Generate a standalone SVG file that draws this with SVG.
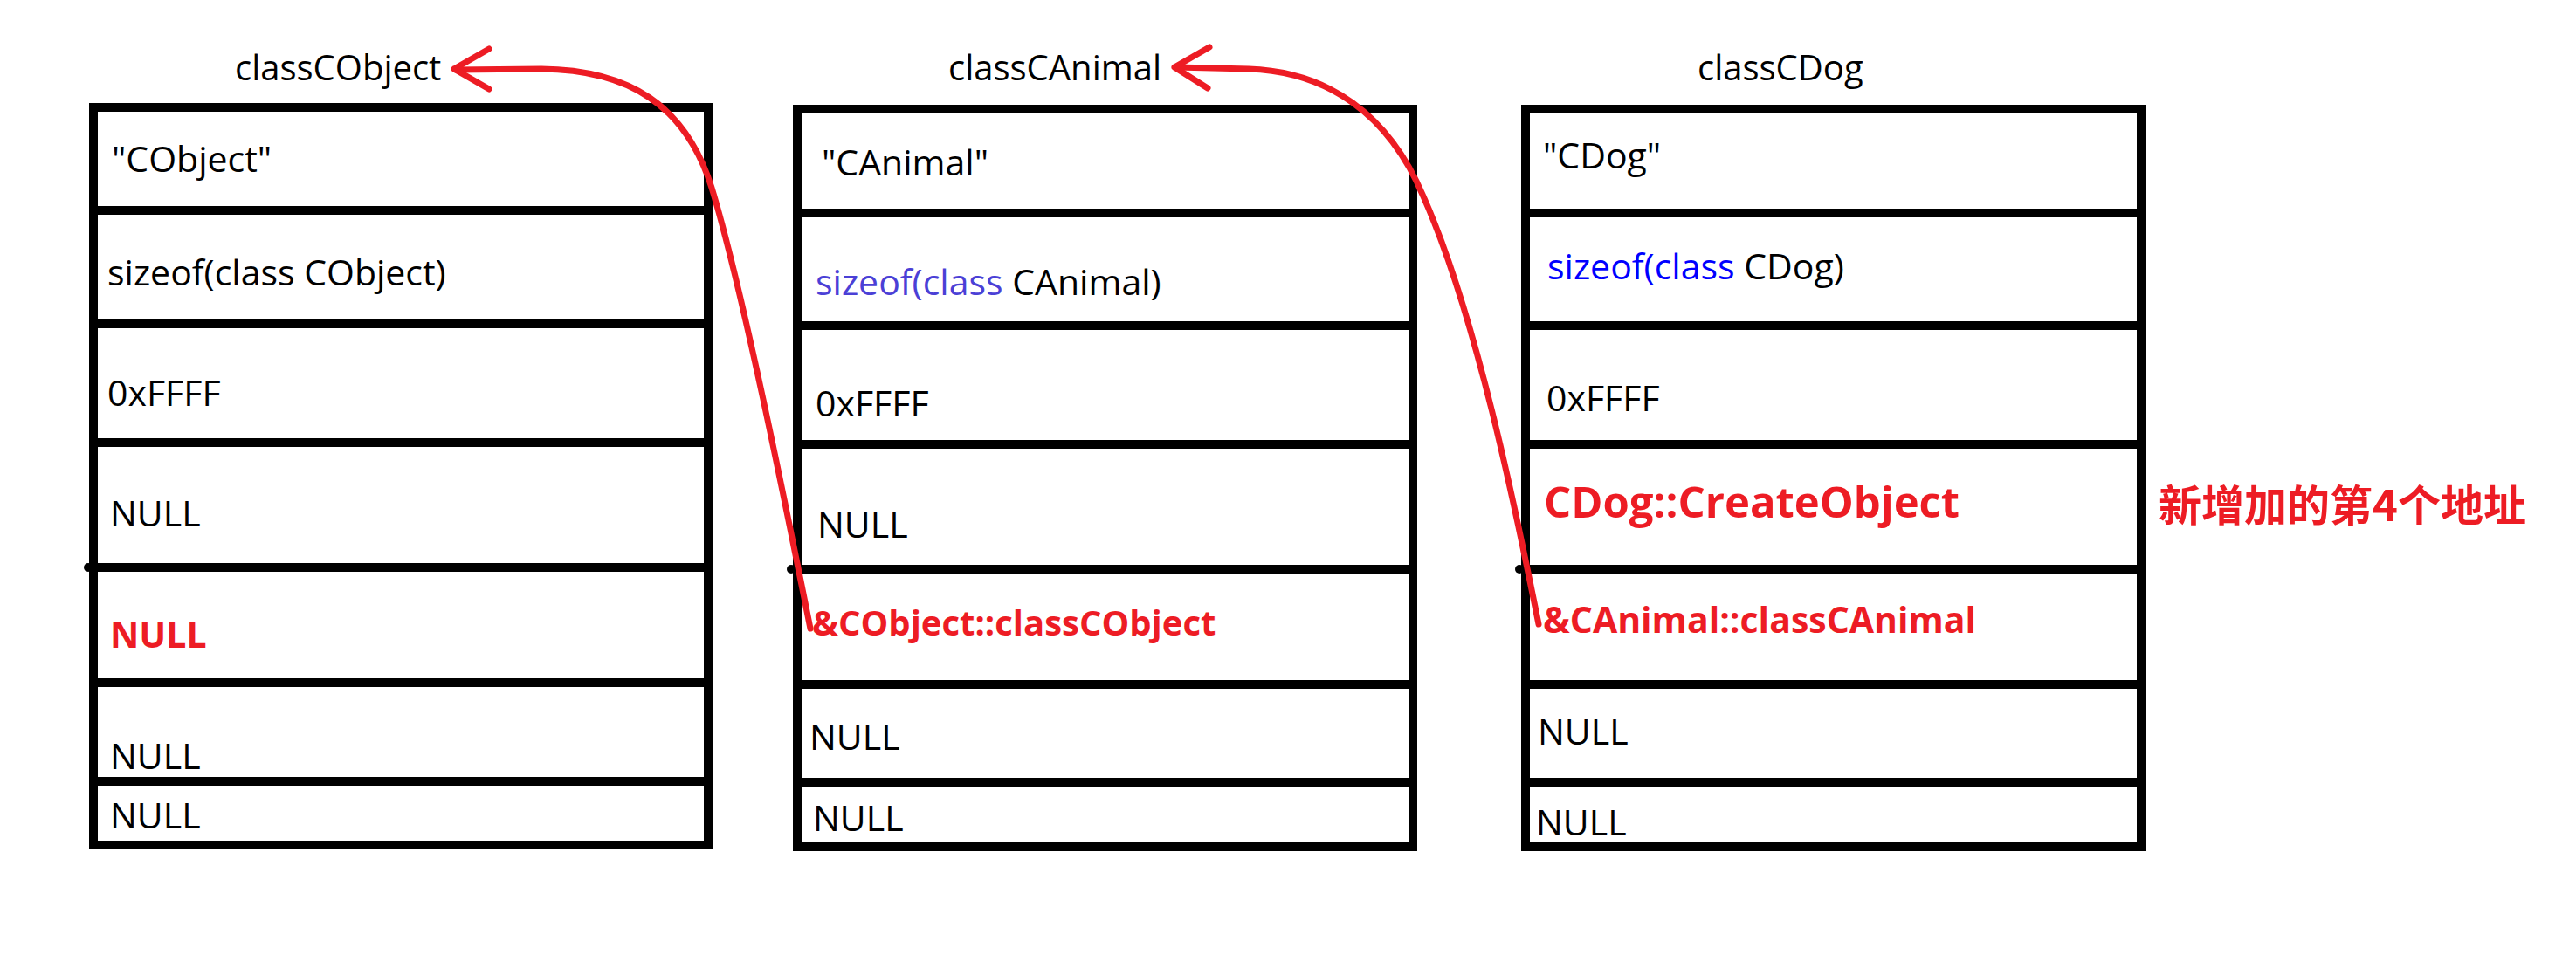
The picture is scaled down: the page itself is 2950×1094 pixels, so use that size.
<svg xmlns="http://www.w3.org/2000/svg" width="2950" height="1094" viewBox="0 0 2950 1094">
  <style>
    .frame { fill: #ffffff; stroke: #000000; stroke-width: 10; }
    .sep { stroke: #000000; stroke-width: 10; stroke-linecap: round; }
    .knob { fill: #000000; }
    .t { font-family: "Open Sans", "Noto Sans", "Liberation Sans", sans-serif; font-size: 41px; fill: #000000; }
    .title { font-size: 40px; }
    .red { fill: #ED1C24; font-weight: bold; }
    .kw1 { fill: #4B40D6; }
    .kw2 { fill: #0000FF; }
    .note { font-family: "Noto Sans CJK SC", "Noto Sans", sans-serif; font-size: 49px; font-weight: bold; fill: #ED1C24; }
    .link { fill: none; stroke: #ED1C24; stroke-width: 7; stroke-linecap: round; stroke-linejoin: round; }
  </style>

  <rect x="0" y="0" width="2950" height="1094" fill="#ffffff"/>

  <!-- CRuntimeClass table for CObject -->
  <g id="classCObject">
    <text class="t title" x="269" y="92">classCObject</text>
    <rect class="frame" x="107" y="123" width="704" height="845"/>
    <line class="sep" x1="107" y1="241" x2="811" y2="241"/>
    <line class="sep" x1="107" y1="371" x2="811" y2="371"/>
    <line class="sep" x1="107" y1="507" x2="811" y2="507"/>
    <line class="sep" x1="107" y1="650" x2="811" y2="650"/>
    <line class="sep" x1="107" y1="782" x2="811" y2="782"/>
    <line class="sep" x1="107" y1="895" x2="806" y2="895"/>
    <circle class="knob" cx="101" cy="650" r="5"/>
    <text class="t" x="128" y="197">"CObject"</text>
    <text class="t" x="123" y="327">sizeof(class CObject)</text>
    <text class="t" x="123" y="465">0xFFFF</text>
    <text class="t" x="126" y="603">NULL</text>
    <text class="t red" x="126" y="742">NULL</text>
    <text class="t" x="126" y="881">NULL</text>
    <text class="t" x="126" y="949">NULL</text>
  </g>

  <!-- CRuntimeClass table for CAnimal -->
  <g id="classCAnimal">
    <text class="t title" x="1086" y="92">classCAnimal</text>
    <rect class="frame" x="913" y="125" width="705" height="845"/>
    <line class="sep" x1="913" y1="244" x2="1613" y2="244"/>
    <line class="sep" x1="913" y1="373" x2="1618" y2="373"/>
    <line class="sep" x1="913" y1="509" x2="1618" y2="509"/>
    <line class="sep" x1="913" y1="652" x2="1618" y2="652"/>
    <line class="sep" x1="913" y1="784" x2="1618" y2="784"/>
    <line class="sep" x1="913" y1="896" x2="1613" y2="896"/>
    <circle class="knob" cx="906" cy="652" r="5"/>
    <text class="t" x="941" y="201">"CAnimal"</text>
    <text class="t" x="934" y="338"><tspan class="kw1">sizeof(class</tspan> CAnimal)</text>
    <text class="t" x="934" y="477">0xFFFF</text>
    <text class="t" x="936" y="616">NULL</text>
    <text class="t red" x="930" y="728" style="font-size:40px">&amp;CObject::classCObject</text>
    <text class="t" x="927" y="859">NULL</text>
    <text class="t" x="931" y="952">NULL</text>
  </g>

  <!-- CRuntimeClass table for CDog -->
  <g id="classCDog">
    <text class="t title" x="1944" y="92">classCDog</text>
    <rect class="frame" x="1747" y="125" width="705" height="845"/>
    <line class="sep" x1="1747" y1="244" x2="2447" y2="244"/>
    <line class="sep" x1="1747" y1="373" x2="2452" y2="373"/>
    <line class="sep" x1="1747" y1="509" x2="2452" y2="509"/>
    <line class="sep" x1="1747" y1="652" x2="2452" y2="652"/>
    <line class="sep" x1="1747" y1="784" x2="2452" y2="784"/>
    <line class="sep" x1="1747" y1="896" x2="2447" y2="896"/>
    <circle class="knob" cx="1740" cy="652" r="5"/>
    <text class="t" x="1767" y="193">"CDog"</text>
    <text class="t" x="1772" y="320"><tspan class="kw2">sizeof(class</tspan> CDog)</text>
    <text class="t" x="1771" y="471">0xFFFF</text>
    <text class="t red" x="1768" y="593" style="font-size:49px">CDog::CreateObject</text>
    <text class="t red" x="1767" y="725">&amp;CAnimal::classCAnimal</text>
    <text class="t" x="1761" y="853">NULL</text>
    <text class="t" x="1759" y="957">NULL</text>
  </g>

  <!-- note beside the CreateObject slot -->
  <g id="note-createobject">
    <text class="note" x="2472" y="597">新增加的第4个地址</text>
  </g>

  <!-- base-class pointers -->
  <g id="connectors">
    <path class="link" d="M928,720 C900,580 850,330 815,215 C785,120 720,80 620,79 L522,80"/>
    <path class="link" d="M520,79 L560,56 M520,79 L560,102"/>
    <path class="link" d="M1762,715 C1735,580 1690,360 1630,225 C1590,130 1520,82 1430,79 L1347,77"/>
    <path class="link" d="M1345,77 L1385,54 M1345,77 L1383,101"/>
  </g>
</svg>
